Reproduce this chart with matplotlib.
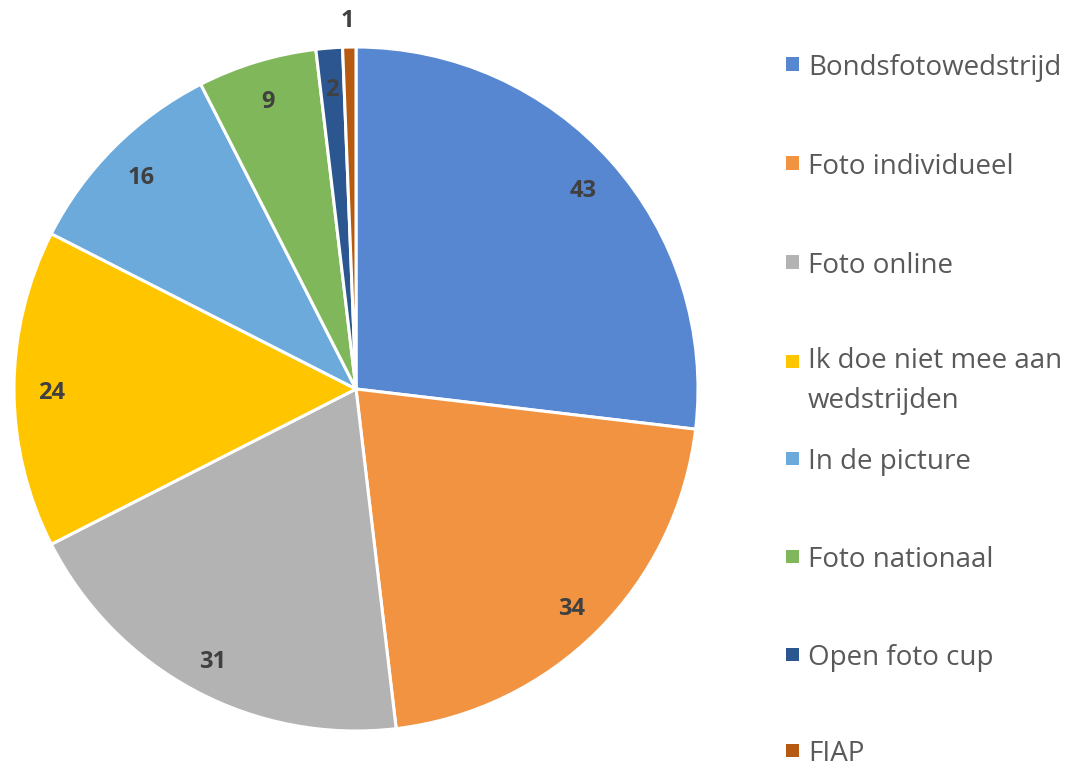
import matplotlib
matplotlib.use("Agg")
import matplotlib.pyplot as plt
from matplotlib.patches import Rectangle

categories = ["Bondsfotowedstrijd", "Foto individueel", "Foto online",
              "Ik doe niet mee aan\nwedstrijden", "In de picture",
              "Foto nationaal", "Open foto cup", "FIAP"]
values = [43, 34, 31, 24, 16, 9, 2, 1]
colors = ["#5687D0", "#F29341", "#B3B3B3", "#FFC600", "#6BAADB",
          "#80B75A", "#2C5690", "#B55A10"]

W, H = 1068, 768
fig = plt.figure(figsize=(W / 100, H / 100), dpi=100)
plt.rcParams['font.family'] = ['Open Sans', 'DejaVu Sans']

cx, cy, R = 356, 389, 342
ax = fig.add_axes([(cx - R) / W, (H - cy - R) / H, 2 * R / W, 2 * R / H])

wedges, texts = ax.pie(values, colors=colors, startangle=90, counterclock=False,
                       radius=1, labels=[str(v) for v in values], labeldistance=0.89,
                       wedgeprops=dict(edgecolor="white", linewidth=2.2),
                       textprops=dict(fontsize=17, fontweight="bold", color="#404040",
                                      ha="center", va="center"))
ax.set_xlim(-1, 1)
ax.set_ylim(-1, 1)
ax.set_aspect("equal")
ax.axis("off")
for w, t in zip(wedges, texts):
    t.set_ha("center")
    t.set_va("center")
    t.set_clip_on(False)
    x, y = t.get_position()
    t.set_position((x, y - 0.013))
# smallest slice label placed outside (best fit)
texts[-1].set_position((-0.025, 1.075))

# legend
marker_x = 792
text_x = 808
line_gap = 36
first_baselines = [75, 174, 273, 372, 469, 567, 665, 761]
for cat, col, yb in zip(categories, colors, first_baselines):
    s = 13
    n = cat.count("\n")
    fig.patches.append(Rectangle(((marker_x - s / 2) / W, (H - (yb - 11) - s / 2) / H),
                                 s / W, s / H, transform=fig.transFigure,
                                 facecolor=col, edgecolor="none"))
    fig.text(text_x / W, (H - yb - n * line_gap) / H, cat, fontsize=20, color="#595959",
             ha="left", va="baseline", linespacing=1.55)

fig.savefig("out.png", dpi=100)
